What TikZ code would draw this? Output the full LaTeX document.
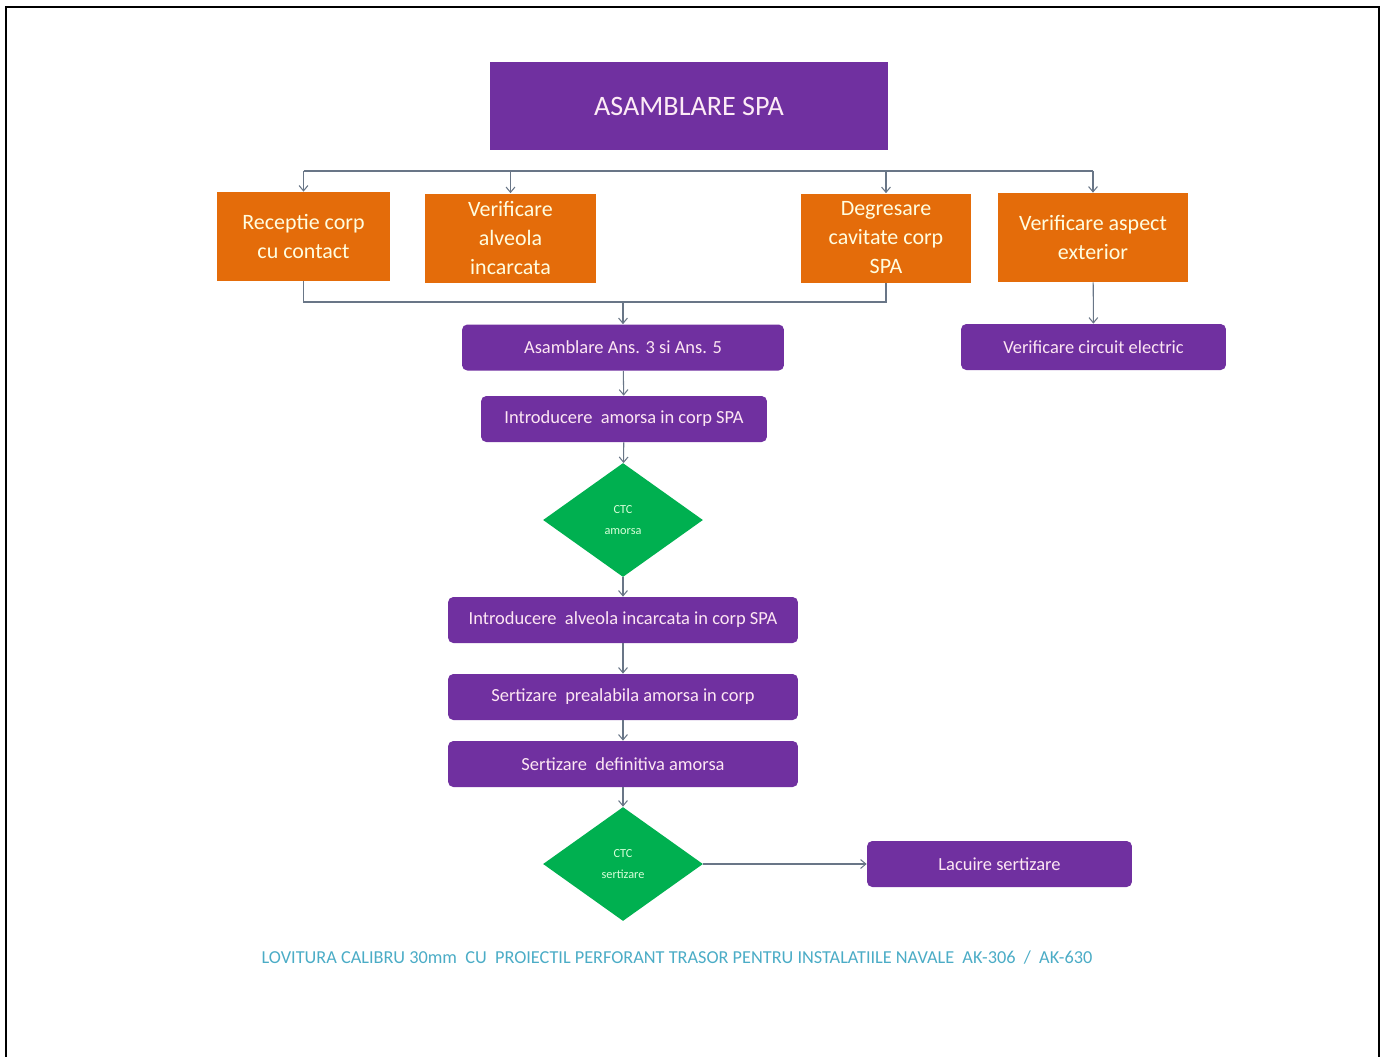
\documentclass[tikz,border=0pt]{standalone}
\usepackage{fontspec}
\setmainfont{Carlito}
\usetikzlibrary{arrows.meta,shapes.geometric,positioning}

\definecolor{spapurple}{HTML}{7030A0}
\definecolor{spaorange}{HTML}{E46C0A}
\definecolor{spagreen}{HTML}{00B050}
\definecolor{linkgray}{RGB}{105,118,135}
\definecolor{footteal}{HTML}{4BACC6}

\tikzset{
  titlebox/.style={fill=spapurple,text=white!92!magenta,minimum width=7.96cm,minimum height=1.76cm,
    font=\fontsize{16}{19}\selectfont},
  checkbox/.style={fill=spaorange,text=white!88!yellow,minimum width=#1,minimum height=1.78cm,
    align=center,inner sep=1pt,font=\fontsize{12.5}{16.5}\selectfont},
  stepbox/.style={fill=spapurple,text=white!90!magenta,rounded corners=3pt,minimum width=#1,
    minimum height=0.92cm,font=\fontsize{10.5}{12}\selectfont},
  ctcdiamond/.style={diamond,fill=spagreen,text=white!85!green,minimum width=3.2cm,minimum height=2.28cm,
    inner sep=0pt,align=center,font=\fontsize{7}{11.5}\selectfont},
  link/.style={draw=linkgray,line width=0.6pt},
  arr/.style={link,-{Straight Barb[length=3pt,width=5pt]}}
}

\begin{document}
\begin{tikzpicture}[x=0.02cm,y=-0.02cm]
  \useasboundingbox (0,0) rectangle (1384,1056);
  \draw[line width=1.4pt] (6,1060) -- (6,7) -- (1379,7) -- (1379,1060);

  % header and the four checks
  \node[titlebox] (title) at (689,106) {ASAMBLARE SPA};
  \node[checkbox=3.46cm] (recv) at (303.5,236.5) {Receptie corp\\cu contact};
  \node[checkbox=3.42cm] (alv) at (510.5,238) {Verificare\\alveola\\incarcata};
  \node[checkbox=3.40cm] (degr) at (886,238) {Degresare\\cavitate corp\\SPA};
  \node[checkbox=3.80cm] (aspect) at (1093,237.5) {Verificare aspect\\exterior};
  \coordinate (bus) at (0,171);
  \coordinate (bus2) at (0,302);

  % main line
  \node[stepbox=6.44cm] (asm) at (623,347.5) {Asamblare Ans. 3 si Ans. 5};
  \node[stepbox=5.30cm] (circ) at (1093.5,347) {Verificare circuit electric};
  \node[stepbox=5.72cm] (intro1) at (624,419) {Introducere\ \ amorsa in corp SPA};
  \node[ctcdiamond] (ctc1) at (623,520) {CTC\\amorsa};
  \node[stepbox=7cm] (intro2) at (623,620) {Introducere\ \ alveola incarcata in corp SPA};
  \node[stepbox=7cm] (sert1) at (623,697) {Sertizare\ \ prealabila amorsa in corp};
  \node[stepbox=7cm] (sert2) at (623,764) {Sertizare\ \ definitiva amorsa};
  \node[ctcdiamond] (ctc2) at (623,864) {CTC\\sertizare};
  \node[stepbox=5.30cm] (lac) at (999.5,864) {Lacuire sertizare};

  \node[text=footteal,font=\fontsize{10.4}{12}\selectfont] (foot) at (677,958)
    {LOVITURA CALIBRU 30mm\ \ CU\ \ PROIECTIL PERFORANT TRASOR PENTRU INSTALATIILE NAVALE\ \ AK-306\ \ /\ \ AK-630};

  % connectors
  \draw[link] (recv.north |- bus) -- (aspect.north |- bus);
  \foreach \n in {recv,alv,degr,aspect}
    \draw[arr] (\n.north |- bus) -- (\n.north);
  \draw[link] (recv.south) |- (degr.south |- bus2) -- (degr.south);
  \draw[arr] (asm.north |- bus2) -- (asm.north);
  \draw[arr] (aspect) -- (circ);
  \draw[arr] (asm) -- (intro1);
  \draw[arr] (intro1) -- (ctc1);
  \draw[arr] (ctc1) -- (intro2);
  \draw[arr] (intro2) -- (sert1);
  \draw[arr] (sert1) -- (sert2);
  \draw[arr] (sert2) -- (ctc2);
  \draw[arr] (ctc2) -- (lac);
\end{tikzpicture}
\end{document}
